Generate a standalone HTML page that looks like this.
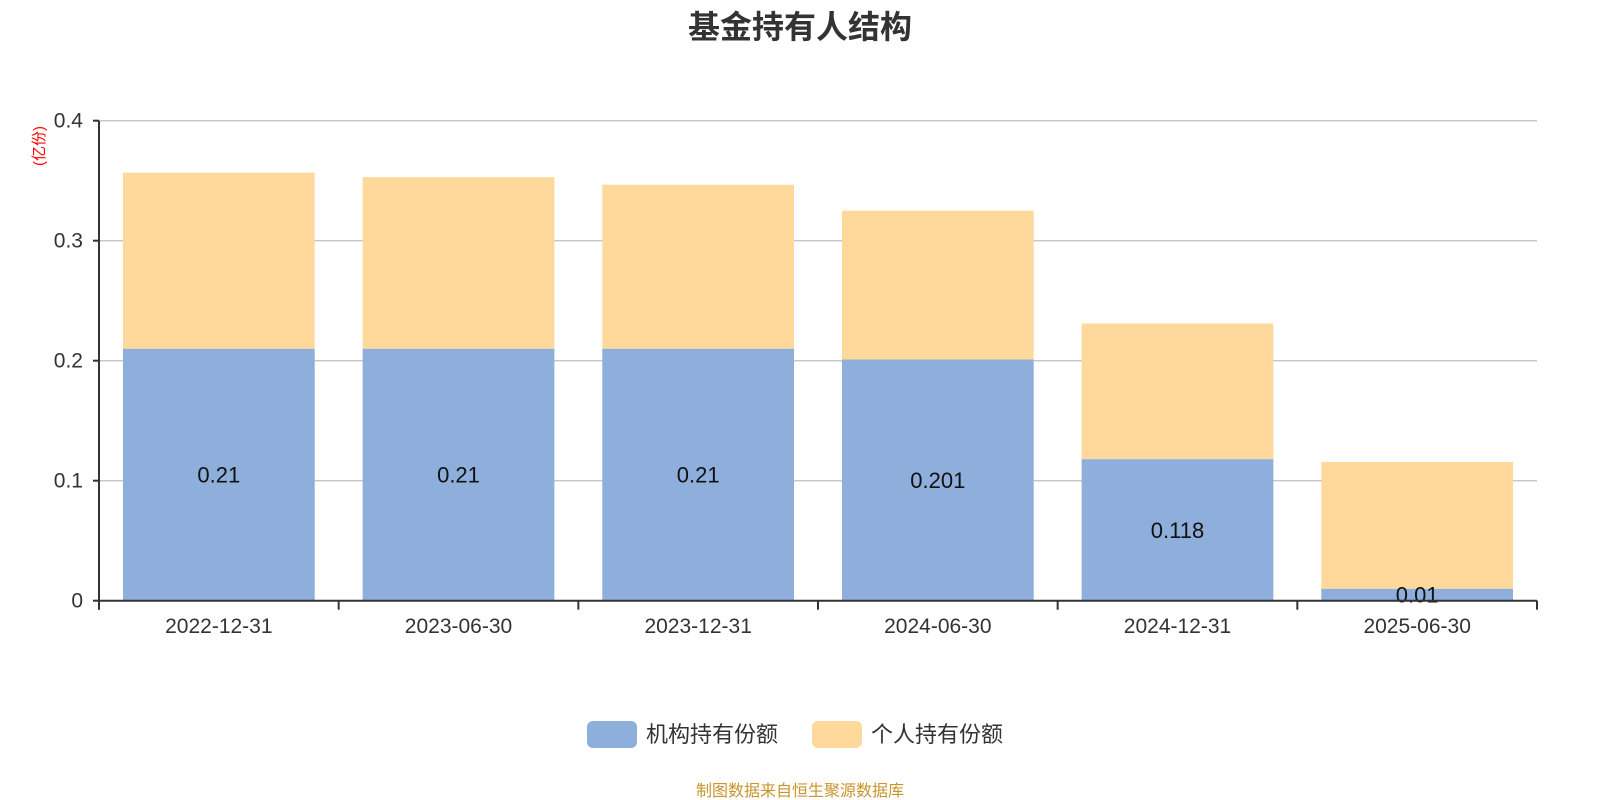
<!DOCTYPE html>
<html><head><meta charset="utf-8"><style>
body{margin:0;background:#fff;}
svg{display:block;font-family:"Liberation Sans","Noto Sans CJK SC",sans-serif;}
</style></head><body>
<svg id="chart" width="1600" height="800">
<text x="800" y="38" text-anchor="middle" font-size="32" font-weight="bold" fill="#333">基金持有人结构</text>
<text transform="translate(44,146) rotate(-90)" text-anchor="middle" font-size="15" fill="#f00">(亿份)</text>
<g id="grid"></g><g id="bars"></g><g id="axes"></g>
<g>
<g><rect x="587" y="721" width="50" height="27" rx="6" fill="#8eaedb"/><text x="646" y="742" font-size="22" fill="#333">机构持有份额</text></g>
<g><rect x="812" y="721" width="50" height="27" rx="6" fill="#fed99b"/><text x="871" y="742" font-size="22" fill="#333">个人持有份额</text></g>
</g>
<text x="800" y="796" text-anchor="middle" font-size="16" fill="#c8952c">制图数据来自恒生聚源数据库</text>
</svg>
<script>
const categories=["2022-12-31","2023-06-30","2023-12-31","2024-06-30","2024-12-31","2025-06-30"];
const institution=[0.21,0.21,0.21,0.201,0.118,0.01];
const individual=[0.1467,0.143,0.1366,0.124,0.113,0.1056];
const yTicks=[0,0.1,0.2,0.3,0.4];
const NS="http://www.w3.org/2000/svg";
const x0=99,x1=1537,yTop=120.7,yBot=600.7,yMax=0.4;
const y=v=>yBot-(v/yMax)*(yBot-yTop);
const bw=(x1-x0)/categories.length;
function mk(tag,attrs,parent,text){const e=document.createElementNS(NS,tag);for(const k in attrs)e.setAttribute(k,attrs[k]);if(text!=null)e.textContent=text;document.getElementById(parent).appendChild(e);return e;}
yTicks.forEach(t=>{
 if(t>0){const l=mk('line',{x1:x0,x2:x1,y1:y(t),y2:y(t),stroke:'#c8c8c8','stroke-width':1.5},'grid');
 
 }
 const tk=mk('line',{x1:x0-6,x2:x0,y1:y(t),y2:y(t),stroke:'#333','stroke-width':2},'axes');
 
 
 const tl=mk('text',{x:x0-16,y:y(t)+7,'text-anchor':'end','font-size':21,fill:'#333'},'axes',String(t));
 
 
});
categories.forEach((c,i)=>{
 const bx=x0+bw*i+bw*0.1,w=bw*0.8;
 const a=institution[i],b=individual[i];
 const r1=mk('rect',{x:bx,y:y(a),width:w,height:yBot-y(a),fill:'#8eaedb'},'bars');
 
 
 const r2=mk('rect',{x:bx,y:y(a+b),width:w,height:y(a)-y(a+b),fill:'#fed99b'},'bars');
 
 
 const lb=mk('text',{x:bx+w/2,y:(y(a)+yBot)/2+8,'text-anchor':'middle','font-size':22,fill:'#111'},'bars',String(a));
 
 
 const xl=mk('text',{x:x0+bw*(i+0.5),y:633,'text-anchor':'middle','font-size':21,fill:'#333'},'axes',c);
 
 
});
for(let i=0;i<=categories.length;i++){
 const t=mk('line',{x1:x0+bw*i,x2:x0+bw*i,y1:yBot,y2:yBot+9,stroke:'#333','stroke-width':2},'axes');
 
 
}
const ya=mk('line',{x1:x0,x2:x0,y1:yTop,y2:yBot+9,stroke:'#333','stroke-width':2},'axes');


const xa=mk('line',{x1:x0,x2:x1,y1:yBot,y2:yBot,stroke:'#333','stroke-width':2},'axes');


</script>
</body></html>
